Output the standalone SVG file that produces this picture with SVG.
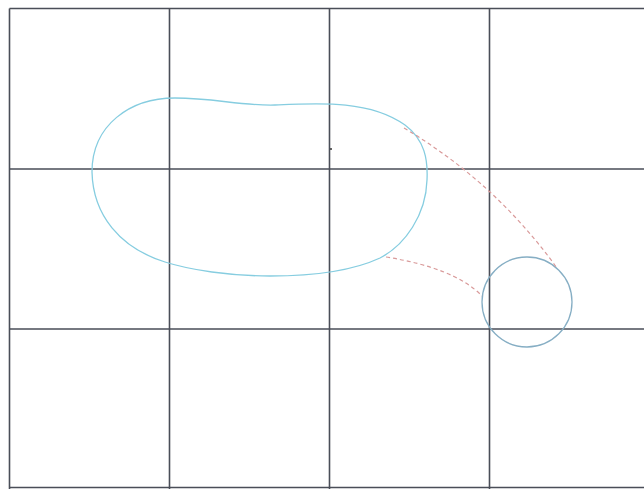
<svg xmlns="http://www.w3.org/2000/svg" width="644" height="489" viewBox="0 0 644 489">
<style>
.grid{stroke:#4a4e58;stroke-width:1.6;fill:none}
.blob{stroke:#86cde0;stroke-width:1.3;fill:none}
.circ{stroke:#86aec4;stroke-width:1.3;fill:none}
.conn{stroke:#d99a9a;stroke-width:1.2;fill:none;stroke-dasharray:4 3}
</style>
<rect width="644" height="489" fill="#ffffff"/>
<g id="grid" class="grid">
<path d="M9.5 8.5 H644 M9.5 169 H644 M9.5 329 H644 M9.5 487.5 H644"/>
<path d="M9.5 8.5 V489 M169.5 8.5 V489 M329.5 8.5 V489 M489.5 8.5 V489"/>
</g>
<g id="blob">
<path class="blob" d="M92 172 C92 125 130 98 175 98 C215 98 240 106 275 105 C320 103 370 100 405 125 C425 140 428 160 427 180 C426 215 405 245 380 258 C350 272 310 276 270 276 C230 276 190 270 165 262 C120 248 93 215 92 172 Z"/>
</g>
<g id="circle">
<circle class="circ" cx="527" cy="302" r="45"/>
</g>
<g id="connectors">
<path class="conn" d="M404 128 Q495 182 557 268"/>
<path class="conn" d="M386 257 Q455 268 482 296"/>
</g>
<circle cx="331" cy="149" r="1" fill="#333"/>
</svg>
